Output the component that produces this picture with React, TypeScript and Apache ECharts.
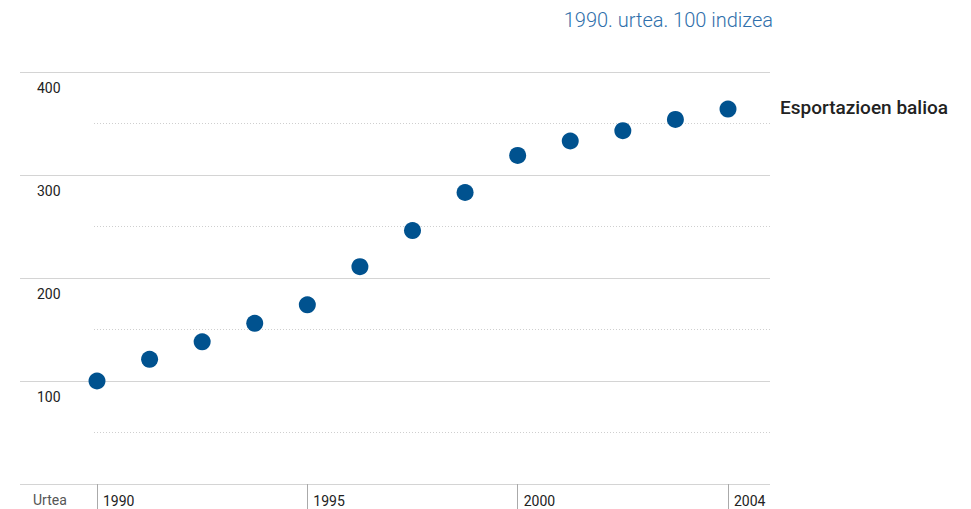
import React, { useEffect, useRef } from "react";
import * as echarts from "echarts";

const years = ["1990", "1991", "1992", "1993", "1995", "1996", "1997", "1998", "2000", "2001", "2002", "2003", "2004"];
const exportValues = [100, 121, 138, 156, 174, 211, 246, 283, 319, 333, 343, 354, 364];
const labelledYears = ["1990", "1995", "2000", "2004"];
const titleText = "1990. urtea. 100 indizea";
const seriesName = "Esportazioen balioa";
const axisName = "Urtea";

const FONT = "Roboto";

export default function App() {
  const ref = useRef<HTMLDivElement>(null);
  useEffect(() => {
    if (!ref.current) return;
    const chart = echarts.init(ref.current, undefined, { renderer: "svg" });
    const showIdx = (i: number) => labelledYears.includes(years[i]);
    chart.setOption({
      animation: false,
      backgroundColor: "#ffffff",
      grid: [
        { left: 20, right: 201, top: 72, bottom: 25 },
        { left: 94, right: 201, top: 72, bottom: 25 },
        { left: 97, right: 243, top: 72, bottom: 25 },
      ],
      xAxis: [
        { gridIndex: 0, type: "value", show: false, min: 0, max: 1 },
        { gridIndex: 1, type: "value", show: false, min: 0, max: 1 },
        {
          gridIndex: 2,
          type: "category",
          data: years,
          boundaryGap: false,
          axisLine: { show: false },
          axisTick: {
            show: true,
            interval: (i: number) => showIdx(i),
            length: 25,
            lineStyle: { color: "#aaaaaa", width: 1 },
          },
          axisLabel: {
            interval: (i: number) => showIdx(i),
            align: "left",
            padding: [0, 0, 0, 6],
            margin: 10,
            fontFamily: FONT,
            fontSize: 14,
            color: "#222222",
          },
          splitLine: { show: false },
        },
      ],
      yAxis: [
        {
          gridIndex: 0,
          type: "value",
          min: 0,
          max: 400,
          interval: 100,
          axisLine: { show: false },
          axisTick: { show: false },
          axisLabel: {
            inside: true,
            margin: 17,
            verticalAlign: "top",
            padding: [9, 0, 0, 0],
            fontFamily: FONT,
            fontSize: 14,
            color: "#222222",
            formatter: (v: number) => (v === 0 ? "" : String(v)),
          },
          splitLine: { show: true, lineStyle: { color: "#d4d4d4", width: 1.2 } },
        },
        {
          gridIndex: 1,
          type: "value",
          min: 0,
          max: 400,
          interval: 50,
          axisLine: { show: false },
          axisTick: { show: false },
          axisLabel: { show: false },
          splitLine: {
            show: true,
            lineStyle: { color: ["rgba(0,0,0,0)", "#cfcfcf"], type: [1, 2], width: 1 },
          },
        },
        {
          gridIndex: 2,
          type: "value",
          min: 0,
          max: 400,
          show: false,
          splitLine: { show: false },
        },
      ],
      series: [
        {
          name: seriesName,
          type: "scatter",
          xAxisIndex: 2,
          yAxisIndex: 2,
          data: exportValues,
          symbol: "circle",
          symbolSize: 17,
          itemStyle: { color: "#00528f", opacity: 1 },
        },
      ],
      graphic: [
        {
          type: "text",
          right: 971 - 773,
          top: 10,
          style: {
            text: titleText,
            fontFamily: FONT,
            fontSize: 20,
            fontWeight: 300,
            fill: "#2f6fab",
          },
        },
        {
          type: "text",
          left: 780,
          top: 98,
          style: {
            text: seriesName,
            fontFamily: FONT,
            fontSize: 19,
            fontWeight: 500,
            fill: "#222222",
          },
        },
        {
          type: "text",
          left: 33,
          top: 493,
          style: {
            text: axisName,
            fontFamily: FONT,
            fontSize: 14,
            fill: "#555555",
          },
        },
      ],
    });
    return () => chart.dispose();
  }, []);
  return (
    <div
      ref={ref}
      style={{ position: "fixed", left: 0, top: 0, width: 971, height: 509, background: "#fff" }}
    />
  );
}
